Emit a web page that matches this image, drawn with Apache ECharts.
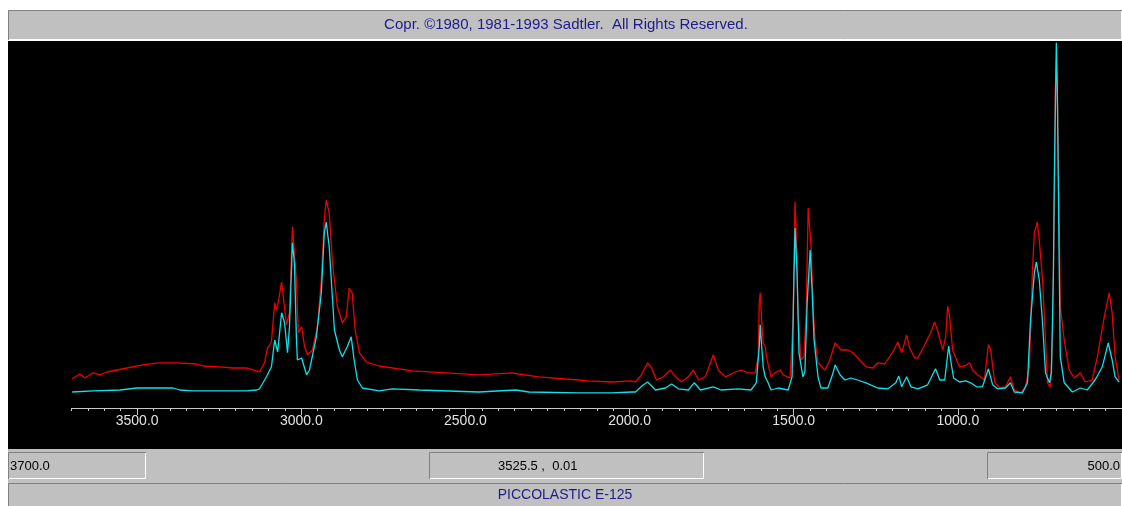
<!DOCTYPE html>
<html>
<head>
<meta charset="utf-8">
<script src="https://cdn.jsdelivr.net/npm/echarts@6/dist/echarts.min.js"></script>
<style>
html,body{margin:0;padding:0;background:#ffffff;}
#chart{width:1122px;height:506px;}
</style>
</head>
<body>
<div id="chart"></div>
<script>
// ---- Data ----
const copyrightText = 'Copr. \u00A91980, 1981-1993 Sadtler.  All Rights Reserved.';
const compoundName = 'PICCOLASTIC E-125';
const rangeStartText = '3700.0';
const rangeEndText = '500.0';
const cursorText = '3525.5 ,  0.01';
const axisMin = 500;
const axisMax = 3700;
const majorTicks = [3500, 3000, 2500, 2000, 1500, 1000];
const majorTickLabels = ['3500.0', '3000.0', '2500.0', '2000.0', '1500.0', '1000.0'];

const redWn = [3698,3674,3659,3634,3613,3592,3531,3483,3431,3379,
  3318,3300,3249,3209,3167,3136,3127,3112,3103,3091,
  3081,3076,3069,3060,3057,3045,3036,3027,3021,3015,
  3009,2999,2990,2981,2966,2951,2939,2930,2924,2915,
  2905,2890,2875,2863,2854,2845,2836,2823,2802,2763,
  2662,2559,2459,2359,2337,2277,2155,2125,2055,1994,
  1982,1964,1945,1933,1918,1897,1876,1860,1842,1821,
  1806,1790,1769,1745,1730,1708,1678,1660,1639,1617,
  1608,1605,1602,1599,1593,1587,1581,1569,1557,1541,
  1532,1511,1502,1496,1493,1487,1478,1469,1462,1456,
  1447,1441,1435,1426,1405,1390,1374,1356,1335,1320,
  1305,1280,1259,1244,1223,1198,1183,1171,1156,1147,
  1131,1122,1101,1083,1071,1062,1046,1037,1031,1025,
  1016,995,979,964,955,940,919,907,900,888,
  873,855,840,828,809,794,782,773,767,758,
  752,742,733,727,718,712,706,703,700,697,
  691,688,676,661,645,627,612,591,575,554,
  539,530,521,509];
const redAbs = [.073,.085,.075,.088,.083,.090,.100,.108,.113,.113,
  .110,.105,.103,.100,.100,.093,.090,.113,.150,.165,
  .263,.245,.270,.315,.295,.208,.238,.453,.450,.320,
  .188,.203,.153,.133,.145,.203,.320,.470,.520,.488,
  .363,.253,.213,.228,.300,.288,.195,.138,.115,.105,
  .093,.088,.083,.088,.085,.078,.070,.068,.065,.068,
  .065,.083,.113,.100,.070,.078,.095,.078,.065,.078,
  .095,.070,.078,.133,.095,.078,.090,.095,.088,.088,
  .128,.263,.288,.238,.163,.153,.120,.078,.088,.095,
  .083,.075,.220,.515,.453,.238,.120,.128,.238,.500,
  .403,.253,.170,.113,.095,.120,.163,.145,.145,.138,
  .125,.103,.100,.113,.110,.140,.165,.138,.183,.150,
  .125,.125,.158,.188,.215,.195,.145,.178,.255,.228,
  .145,.103,.105,.113,.095,.083,.070,.158,.145,.065,
  .050,.053,.078,.045,.038,.053,.103,.338,.438,.465,
  .420,.320,.170,.063,.053,.170,.503,.800,.870,.780,
  .450,.253,.170,.095,.075,.088,.065,.070,.128,.228,
  .288,.238,.128,.070];

const cyanWn = [3698,3634,3552,3501,3391,3370,3331,3167,3136,3127,
  3106,3091,3081,3072,3060,3051,3042,3036,3027,3021,
  3015,3012,2999,2984,2975,2954,2939,2930,2924,2915,
  2899,2884,2875,2860,2848,2839,2829,2814,2763,2723,
  2641,2459,2346,2307,2155,2055,1994,1982,1958,1945,
  1921,1891,1872,1851,1821,1803,1784,1745,1721,1669,
  1630,1614,1605,1602,1599,1593,1587,1578,1569,1548,
  1517,1505,1499,1496,1490,1484,1472,1466,1459,1450,
  1444,1438,1426,1417,1396,1380,1374,1359,1344,1326,
  1305,1280,1244,1213,1189,1180,1171,1156,1143,1122,
  1092,1068,1055,1040,1028,1022,1013,995,976,961,
  943,925,907,894,879,855,840,828,803,788,
  779,767,761,752,742,733,721,715,709,706,
  700,697,691,688,676,651,627,606,582,560,
  542,530,521,509];
const cyanAbs = [.040,.043,.045,.050,.050,.045,.043,.043,.045,.048,
  .078,.103,.170,.140,.238,.213,.138,.203,.413,.363,
  .178,.120,.125,.083,.095,.178,.288,.438,.465,.403,
  .195,.145,.128,.153,.178,.120,.070,.050,.043,.048,
  .045,.040,.045,.040,.038,.038,.040,.040,.058,.065,
  .045,.050,.060,.048,.045,.063,.045,.053,.045,.048,
  .045,.063,.153,.208,.170,.103,.078,.063,.045,.050,
  .045,.078,.338,.450,.345,.138,.078,.090,.263,.395,
  .295,.170,.078,.050,.050,.088,.108,.083,.070,.075,
  .070,.063,.050,.048,.063,.080,.053,.078,.053,.048,
  .058,.098,.070,.070,.155,.120,.075,.065,.068,.063,
  .053,.053,.098,.058,.048,.050,.063,.040,.038,.063,
  .213,.338,.365,.320,.213,.088,.063,.088,.338,.588,
  .913,.795,.338,.128,.063,.040,.050,.045,.070,.103,
  .163,.120,.078,.065];

// ---- Build ----
const pairs = (xs, ys) => xs.map((x, i) => [x, ys[i]]);
const minorTicks = [];
for (let v = axisMin + 50; v <= axisMax; v += 50) minorTicks.push(v);

const FONT = "'Liberation Sans', Arial, sans-serif";
const navy = '#1c1c8c';
const dark = '#808080';
const light = '#ffffff';

function sunkenBox(x, y, w, h) {
  return [
    { type: 'rect', shape: { x: x, y: y, width: w, height: h }, style: { fill: '#c0c0c0' }, z: -5 },
    { type: 'polyline', shape: { points: [[x + 0.5, y + h], [x + 0.5, y + 0.5], [x + w, y + 0.5]] }, style: { stroke: dark, lineWidth: 1, fill: null }, z: -4 },
    { type: 'polyline', shape: { points: [[x + 1, y + h - 0.5], [x + w - 0.5, y + h - 0.5], [x + w - 0.5, y + 1]] }, style: { stroke: light, lineWidth: 1, fill: null }, z: -4 }
  ];
}

const chart = echarts.init(document.getElementById('chart'), null, { renderer: 'canvas' });
const option = {
  animation: false,
  backgroundColor: '#ffffff',
  grid: { left: 71.5, width: 1054, top: 40, height: 368, containLabel: false },
  xAxis: [
    {
      type: 'value', min: axisMin, max: axisMax, inverse: true,
      axisLine: { show: true, lineStyle: { color: '#c8c8c8', width: 1 } },
      axisTick: { show: true, customValues: majorTicks, length: 7, lineStyle: { color: '#c8c8c8', width: 1 } },
      axisLabel: {
        show: true, customValues: majorTicks, margin: 6,
        color: '#e4e4e4', fontSize: 14, fontFamily: FONT,
        formatter: (v) => majorTickLabels[majorTicks.indexOf(v)] || ''
      },
      splitLine: { show: false }
    },
    {
      type: 'value', min: axisMin, max: axisMax, inverse: true, position: 'bottom',
      axisLine: { show: false },
      axisTick: { show: true, customValues: minorTicks, length: 3, lineStyle: { color: '#c8c8c8', width: 1 } },
      axisLabel: { show: false },
      splitLine: { show: false }
    }
  ],
  yAxis: { type: 'value', min: 0, max: 0.92, show: false, splitLine: { show: false } },
  series: [
    {
      type: 'line', name: 'red', data: pairs(redWn, redAbs), xAxisIndex: 0,
      showSymbol: false, symbol: 'none', smooth: false,
      lineStyle: { color: '#ee0000', width: 1.3 }, z: 2
    },
    {
      type: 'line', name: 'cyan', data: pairs(cyanWn, cyanAbs), xAxisIndex: 0,
      showSymbol: false, symbol: 'none', smooth: false,
      lineStyle: { color: '#10e0e8', width: 1.3 }, z: 3
    }
  ],
  graphic: [
    { type: 'rect', shape: { x: 8, y: 41, width: 1114, height: 408 }, style: { fill: '#000000' }, z: -10 },
    ...sunkenBox(8, 10, 1114, 30),
    { type: 'rect', shape: { x: 8, y: 449, width: 1114, height: 57 }, style: { fill: '#c0c0c0' }, z: -6 },
    ...sunkenBox(8, 452, 138, 27),
    ...sunkenBox(429, 452, 275, 27),
    ...sunkenBox(987, 452, 135, 27),
    ...sunkenBox(8, 483, 1114, 24),
    { type: 'text', x: 566, y: 25, z: 10, style: { text: copyrightText, font: '15px ' + FONT, fill: navy, align: 'center', verticalAlign: 'middle' } },
    { type: 'text', x: 10, y: 466, z: 10, style: { text: rangeStartText, font: '13px ' + FONT, fill: '#000000', align: 'left', verticalAlign: 'middle' } },
    { type: 'text', x: 498, y: 466, z: 10, style: { text: cursorText, font: '13px ' + FONT, fill: '#000000', align: 'left', verticalAlign: 'middle' } },
    { type: 'text', x: 1120, y: 466, z: 10, style: { text: rangeEndText, font: '13px ' + FONT, fill: '#000000', align: 'right', verticalAlign: 'middle' } },
    { type: 'text', x: 565, y: 495, z: 10, style: { text: compoundName, font: '14px ' + FONT, fill: navy, align: 'center', verticalAlign: 'middle' } }
  ]
};
chart.setOption(option);
</script>
</body>
</html>
